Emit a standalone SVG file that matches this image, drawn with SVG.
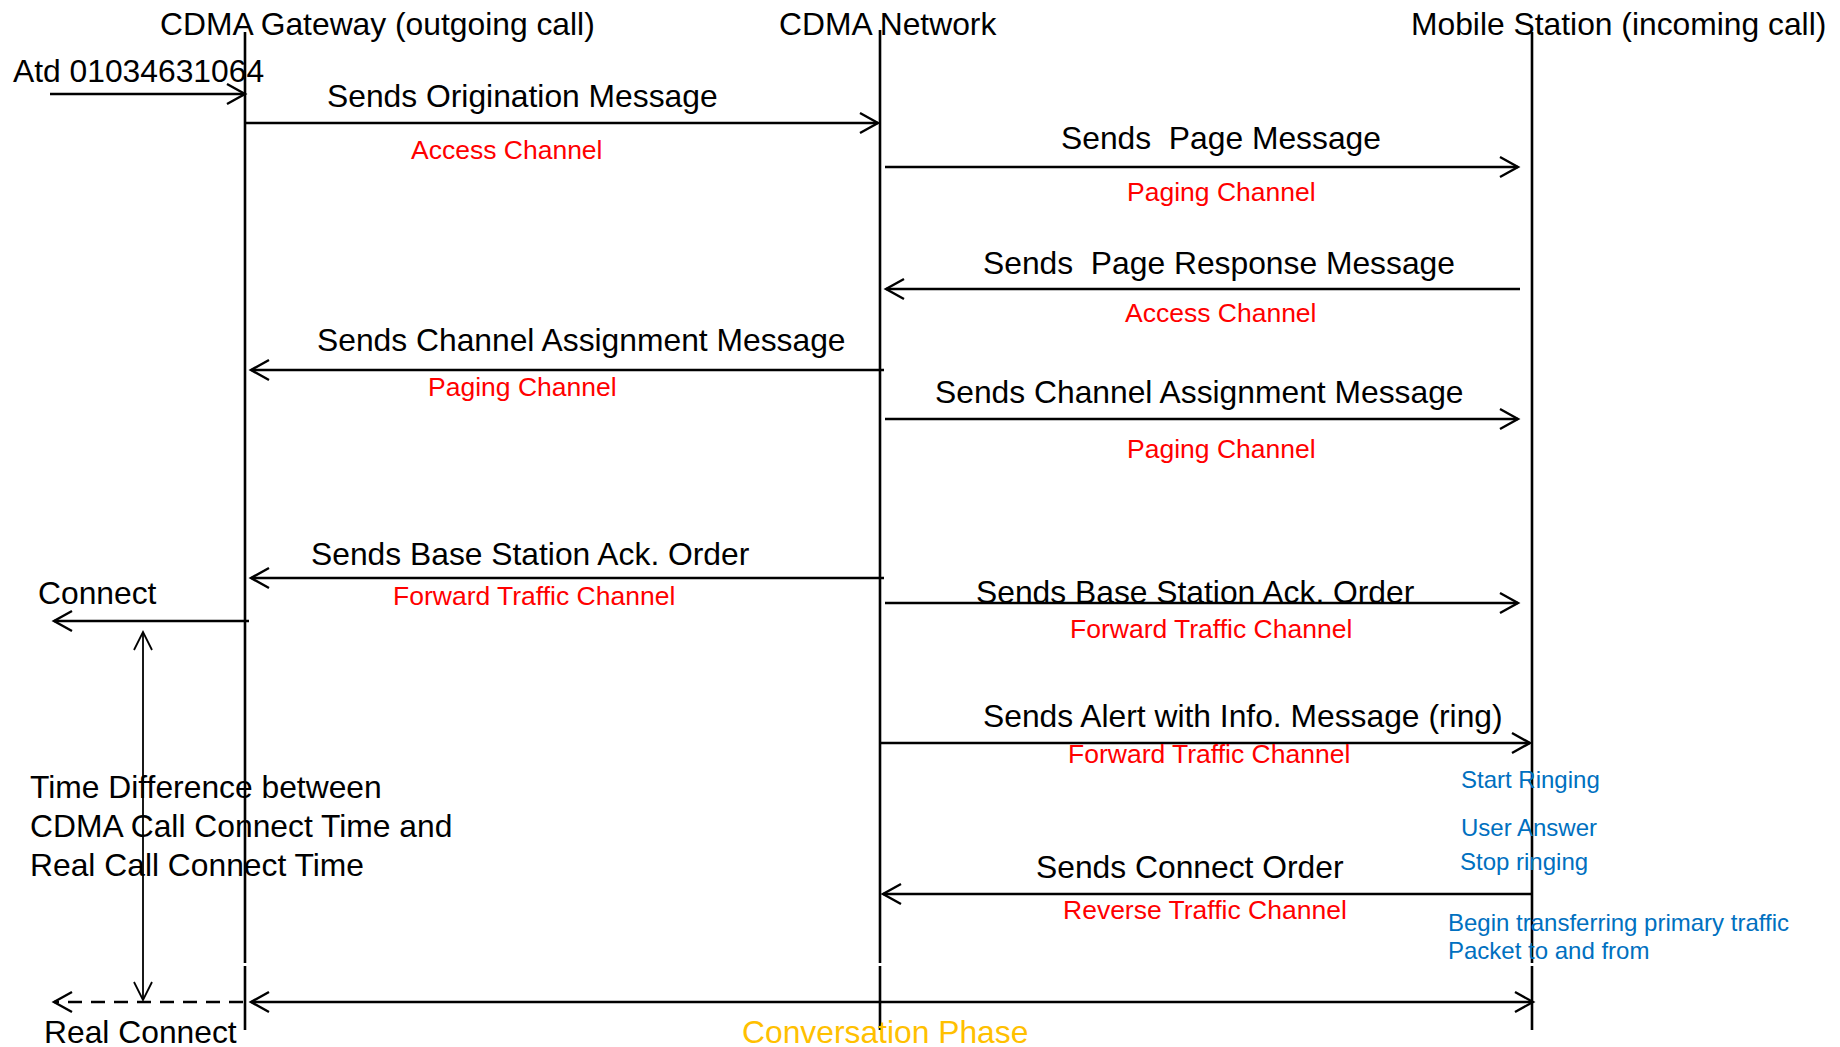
<svg xmlns="http://www.w3.org/2000/svg" width="1840" height="1047" viewBox="0 0 1840 1047">
<style>
text{font-family:"Liberation Sans",Arial,sans-serif}
.h{font-size:31.8px;fill:#000}
.m{font-size:31.8px;fill:#000}
.r{font-size:26.5px;fill:#ff0000}
.b{font-size:24px;fill:#0070c0}
.o{font-size:31.8px;fill:#ffc000}
.life{stroke:#000;stroke-width:2.6;fill:none}
.msg{stroke:#000;stroke-width:2.4;fill:none}
.thin{stroke:#000;stroke-width:1.8;fill:none}
</style>
<defs>
<marker id="ah" markerUnits="userSpaceOnUse" markerWidth="24" markerHeight="26" refX="20" refY="12" orient="auto-start-reverse">
<path d="M2,2 L20,12 L2,22" fill="none" stroke="#000" stroke-width="2.4"/>
</marker>
<marker id="ahThin" markerUnits="userSpaceOnUse" markerWidth="24" markerHeight="26" refX="20" refY="11" orient="auto-start-reverse">
<path d="M2,2 L20,11 L2,20" fill="none" stroke="#000" stroke-width="1.8"/>
</marker>
</defs>
<rect width="1840" height="1047" fill="#fff"/>

<g id="gateway">
<text class="h" x="160" y="34.5">CDMA Gateway (outgoing call)</text>
<path class="life" d="M245,32 V963 M245,966 V1030"/>
</g>
<g id="network">
<text class="h" x="779" y="34.5">CDMA Network</text>
<path class="life" d="M880,30 V963 M880,966 V1030"/>
</g>
<g id="mobile">
<text class="h" x="1411" y="34.5">Mobile Station (incoming call)</text>
<path class="life" d="M1532,32 V963 M1532,966 V1030"/>
</g>

<g id="connectors">
<line class="msg" x1="50" y1="94" x2="245" y2="94" marker-end="url(#ah)"/>
<line class="msg" x1="245" y1="123" x2="878" y2="123" marker-end="url(#ah)"/>
<line class="msg" x1="885" y1="167" x2="1518" y2="167" marker-end="url(#ah)"/>
<line class="msg" x1="1520" y1="289" x2="886" y2="289" marker-end="url(#ah)"/>
<line class="msg" x1="884" y1="370" x2="251" y2="370" marker-end="url(#ah)"/>
<line class="msg" x1="885" y1="419" x2="1518" y2="419" marker-end="url(#ah)"/>
<line class="msg" x1="884" y1="578" x2="251" y2="578" marker-end="url(#ah)"/>
<line class="msg" x1="885" y1="603" x2="1518" y2="603" marker-end="url(#ah)"/>
<line class="msg" x1="249" y1="621" x2="54" y2="621" marker-end="url(#ah)"/>
<line class="msg" x1="880" y1="743" x2="1530" y2="743" marker-end="url(#ah)"/>
<line class="msg" x1="1532" y1="894" x2="883" y2="894" marker-end="url(#ah)"/>
<line class="thin" x1="143" y1="632" x2="143" y2="1000" marker-start="url(#ahThin)" marker-end="url(#ahThin)"/>
<line class="msg" x1="243" y1="1002" x2="54" y2="1002" stroke-dasharray="14,9" marker-end="url(#ah)"/>
<line class="msg" x1="251" y1="1002" x2="1533" y2="1002" marker-start="url(#ah)" marker-end="url(#ah)"/>

<text class="m" x="13" y="81.5">Atd 01034631064</text>
<text class="m" x="327" y="107">Sends Origination Message</text>
<text class="r" x="411" y="159">Access Channel</text>
<text class="m" x="1061" y="149" xml:space="preserve">Sends  Page Message</text>
<text class="r" x="1127" y="201">Paging Channel</text>
<text class="m" x="983" y="273.5" xml:space="preserve">Sends  Page Response Message</text>
<text class="r" x="1125" y="322">Access Channel</text>
<text class="m" x="317" y="350.5">Sends Channel Assignment Message</text>
<text class="r" x="428" y="396">Paging Channel</text>
<text class="m" x="935" y="402.5">Sends Channel Assignment Message</text>
<text class="r" x="1127" y="458">Paging Channel</text>
<text class="m" x="311" y="564.5">Sends Base Station Ack. Order</text>
<text class="r" x="393" y="605">Forward Traffic Channel</text>
<text class="m" x="38" y="603.5">Connect</text>
<text class="m" x="976" y="602.5">Sends Base Station Ack. Order</text>
<text class="r" x="1070" y="638">Forward Traffic Channel</text>
<text class="m" x="983" y="726.5">Sends Alert with Info. Message (ring)</text>
<text class="r" x="1068" y="763">Forward Traffic Channel</text>
<text class="b" x="1461" y="788">Start Ringing</text>
<text class="m" x="30" y="797.5">Time Difference between</text>
<text class="m" x="30" y="836.5">CDMA Call Connect Time and</text>
<text class="m" x="30" y="875.5">Real Call Connect Time</text>
<text class="b" x="1461" y="836">User Answer</text>
<text class="b" x="1460" y="870">Stop ringing</text>
<text class="m" x="1036" y="877.5">Sends Connect Order</text>
<text class="r" x="1063" y="919">Reverse Traffic Channel</text>
<text class="b" x="1448" y="931">Begin transferring primary traffic</text>
<text class="b" x="1448" y="959">Packet to and from</text>
<text class="m" x="44" y="1042.5">Real Connect</text>
<text class="o" x="742" y="1042.5">Conversation Phase</text>
</g>
</svg>
